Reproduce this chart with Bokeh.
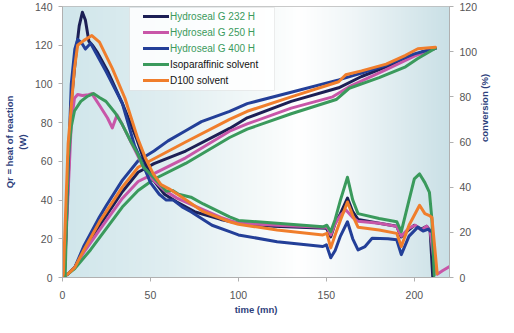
import math
import numpy as np
from bokeh.plotting import figure
from bokeh.models import Range1d, LinearAxis, Legend, LegendItem, BoxAnnotation, FixedTicker
from bokeh.embed import file_html
from bokeh.resources import INLINE

# ---------------- data ----------------
series = ["Hydroseal G 232 H", "Hydroseal G 250 H", "Hydroseal G 400 H",
          "Isoparaffinic solvent", "D100 solvent"]
colors = ["#1c1f55", "#c856a8", "#233f98", "#3a9a5c", "#f07e2c"]

# heat of reaction Qr (W) vs time (mn)
t_heat_232 = [0, 1, 3, 5, 7.7, 9.5, 11.3, 13, 15, 17, 20, 26, 34, 42, 47, 52, 58, 65, 75, 90, 100, 120,
              150, 152.5, 155, 158, 162, 165, 168, 180, 190, 192.5, 196, 200, 204, 207, 209, 210.5]
q_heat_232 = [0, 0, 45, 91, 116, 130, 137, 133, 122, 120, 116, 106, 90, 72, 59, 50, 43, 39, 34, 30, 28, 26.5,
              25.5, 21, 28, 33, 41, 34, 30, 28, 26.5, 21, 24, 27, 25, 26.5, 24, 0]

t_heat_250 = [0, 1, 3, 5, 6.8, 8.6, 11.3, 14.9, 16.7, 21, 25.6, 28.3, 31, 34, 40, 46, 52, 58, 65, 75, 90, 100, 122,
              148, 150.3, 152.5, 155, 158, 161, 165, 168, 180, 190, 192.6, 197, 200.5, 204, 207, 209, 211, 213, 216, 220]
q_heat_250 = [0, 0, 40, 80, 92.6, 94.5, 94, 94.4, 95, 89, 82.4, 77.3, 84, 79, 68, 57, 50, 45, 41, 37, 31, 28, 27,
              26, 26, 22, 28, 32, 35, 31, 29, 28, 26.4, 21.4, 25.5, 27, 24.5, 26.5, 24, 10, 1.7, 3.5, 5.6]

t_heat_400 = [0, 1, 3, 5, 7, 8.6, 11, 13, 16, 19, 25, 34, 41, 45, 50, 55, 59, 63, 68, 73, 85, 95, 100, 122,
              148, 150, 152.5, 155, 158, 162, 165, 168, 172, 176, 185, 190, 192.6, 197, 202, 205, 208, 209]
q_heat_400 = [0, 0, 50, 100, 118, 123, 121, 118, 121, 116, 106, 90, 68, 60, 49, 43, 40, 40, 36.5, 34, 27, 23.7, 22, 18.5,
              16, 16.9, 10.2, 14, 21.4, 28.8, 20, 14.3, 16, 20.3, 20, 19.5, 11.8, 21.4, 26, 24, 25, 24]

t_heat_iso = [0, 1.5, 3.2, 5, 6.8, 10.4, 14, 17.6, 21, 24.7, 30, 34, 39, 42.7, 46, 51.6, 57, 59, 62.4, 66, 73, 80,
              95, 100, 122, 148, 150.3, 152.5, 155, 158, 162, 165, 168, 180, 190, 192.6, 197, 200, 203, 206, 208.6,
              210, 211.3]
q_heat_iso = [0, 0, 62, 78, 86, 91, 93.5, 95, 93, 91, 85, 79, 70, 64, 57, 51.8, 46.7, 44.5, 45, 43, 41.5, 38,
              31.3, 29.5, 28, 26.2, 27, 23.7, 30, 40, 51.8, 40, 33, 30.5, 28.8, 23.7, 40, 51, 53.5, 49, 44,
              30, 1]

t_heat_d100 = [0, 0.5, 3.2, 6.8, 8.6, 12.2, 16.7, 21, 28.3, 35.5, 42.7, 47, 51.6, 56, 60.6, 68, 80, 95, 100, 122,
               148, 150.3, 152.5, 155, 158, 162, 165, 168, 180, 190, 192.6, 197, 203, 206, 208.6, 210, 213]
q_heat_d100 = [0, 2, 69, 108, 120, 122.5, 125, 121.6, 108, 92.6, 72, 62, 53.5, 48, 45.8, 41.5, 34, 28.8, 27.5, 24.5,
               22, 22.8, 15.3, 22, 29.6, 39, 32, 26, 24.5, 22.8, 16, 27, 37.3, 33, 32, 31, 2]

# conversion (%) vs time (mn)
t_conv_232 = [0, 3, 7, 12, 21, 34, 43, 52, 70, 95, 105, 130, 157, 170, 184, 195, 205, 212]
c_conv_232 = [0, 1.5, 4.5, 12, 23, 38, 46.6, 50.4, 56, 66, 70.7, 78, 84, 89, 93.3, 97, 100, 101.5]

t_conv_250 = [0, 3, 7, 12, 21, 34, 43, 52, 70, 95, 105, 130, 153.6, 163, 184, 200, 212]
c_conv_250 = [0, 1.5, 4.5, 11, 21, 35, 42.5, 46, 53, 64.8, 68, 75, 80, 84.5, 92, 98, 101.5]

t_conv_400 = [0, 3, 7, 12, 21, 25, 34, 43, 52, 60, 70, 79, 95, 105, 130, 157, 170, 184, 200, 212]
c_conv_400 = [0, 1.5, 4.5, 13.7, 26.8, 32, 43, 51.7, 56, 60.5, 65, 69, 73.6, 77, 82, 87.5, 90.5, 94, 99, 101.5]

t_conv_iso = [0, 3, 7, 16, 34, 43, 52, 70, 95, 105, 130, 155.6, 163, 180, 195, 202, 212]
c_conv_iso = [0, 1.5, 4, 12.3, 31.2, 38.5, 43.5, 50.5, 62, 65.7, 72.5, 78.8, 83.8, 88.5, 93.3, 97, 101.5]

t_conv_d100 = [0, 3, 7, 12, 21, 34, 43, 52, 70, 95, 105, 130, 157, 161, 170, 184, 195, 202, 212]
c_conv_d100 = [0, 1.5, 4.5, 12, 24.6, 40, 48.8, 52.6, 60, 70, 73.6, 80, 86.7, 89.8, 91.5, 94.5, 98.4, 101.3, 102]

heat_t = [t_heat_232, t_heat_250, t_heat_400, t_heat_iso, t_heat_d100]
heat_q = [q_heat_232, q_heat_250, q_heat_400, q_heat_iso, q_heat_d100]
conv_t = [t_conv_232, t_conv_250, t_conv_400, t_conv_iso, t_conv_d100]
conv_c = [c_conv_232, c_conv_250, c_conv_400, c_conv_iso, c_conv_d100]

x_ticks = [0, 50, 100, 150, 200]
left_ticks = [0, 20, 40, 60, 80, 100, 120, 140]
right_ticks = [0, 20, 40, 60, 80, 100, 120]

# ---------------- figure ----------------
FONT = "Liberation Sans"
p = figure(width=498, height=317, output_backend="svg", toolbar_location=None,
           x_range=Range1d(0, 220), y_range=Range1d(0, 140),
           min_border_left=56, min_border_right=33, min_border_top=6, min_border_bottom=37)
p.extra_y_ranges = {"conv": Range1d(0, 120)}
p.background_fill_color = "white"
p.border_fill_color = "white"
p.outline_line_color = "#b8b8b8"
p.outline_line_width = 1
p.grid.visible = False

# background gradient of the plotting area
stops_x = [0, 60, 115, 135, 165, 220]
stops_rgb = [(208, 230, 235), (224, 238, 241), (246, 250, 250), (255, 255, 255), (240, 246, 248), (202, 224, 230)]
xs = np.linspace(0, 220, 440)
r = np.interp(xs, stops_x, [c[0] for c in stops_rgb]).astype(np.uint32)
g = np.interp(xs, stops_x, [c[1] for c in stops_rgb]).astype(np.uint32)
b = np.interp(xs, stops_x, [c[2] for c in stops_rgb]).astype(np.uint32)
row = (255 << 24) | (b << 16) | (g << 8) | r
img = np.tile(row, (2, 1)).astype(np.uint32)
p.image_rgba(image=[img], x=0, y=0, dw=220, dh=140)

heat_renderers = []
for i in range(5):
    p.line(conv_t[i], conv_c[i], y_range_name="conv", line_color=colors[i], line_width=3,
           line_join="round", line_cap="round")
for i in range(5):
    rr = p.line(heat_t[i], heat_q[i], line_color=colors[i], line_width=3,
                line_join="round", line_cap="round")
    heat_renderers.append(rr)

# axes
p.xaxis.ticker = FixedTicker(ticks=x_ticks)
p.yaxis.ticker = FixedTicker(ticks=left_ticks)
right = LinearAxis(y_range_name="conv", ticker=FixedTicker(ticks=right_ticks))
p.add_layout(right, "right")

p.xaxis.axis_label = "time (mn)"
p.yaxis[0].axis_label = "Qr = heat of reaction\n(W)"
right.axis_label = "conversion (%)"
right.axis_label_orientation = math.pi / 2

for ax in [p.xaxis[0], p.yaxis[0], right]:
    ax.axis_line_color = "#b0b0b0"
    ax.major_tick_line_color = "#b0b0b0"
    ax.major_tick_out = 4
    ax.major_tick_in = 0
    ax.minor_tick_line_color = None
    ax.major_label_text_font = FONT
    ax.major_label_text_font_size = "10.5px"
    ax.major_label_text_color = "#555555"
    ax.axis_label_text_font = FONT
    ax.axis_label_text_font_size = "9.5px"
    ax.axis_label_text_font_style = "bold"
    ax.axis_label_text_color = "#2e3f7c"
p.xaxis.major_label_standoff = 9
p.xaxis.axis_label_standoff = 2
p.yaxis[0].major_label_standoff = 6
p.yaxis[0].axis_label_standoff = 4
right.major_label_standoff = 6
right.axis_label_standoff = 4

# legend box
box = BoxAnnotation(left=129, right=274, top=7, bottom=90,
                    left_units="canvas", right_units="canvas", top_units="canvas", bottom_units="canvas",
                    fill_color="white", fill_alpha=0.85, line_color="#c8c8c8", line_width=1)
p.add_layout(box)

items_a = [LegendItem(label=series[i], renderers=[heat_renderers[i]]) for i in range(3)]
items_b = [LegendItem(label=series[i], renderers=[heat_renderers[i]]) for i in range(3, 5)]
for items, tcol, loc in [(items_a, "#3a9a5c", (81, 221)), (items_b, "#111111", (81, 189))]:
    lg = Legend(items=items, location=loc, padding=2, spacing=0, margin=0,
                glyph_width=26, glyph_height=16, label_height=16, label_standoff=1,
                label_text_font=FONT, label_text_font_size="10px", label_text_color=tcol,
                background_fill_alpha=0, border_line_color=None)
    p.add_layout(lg)

open("out.html", "w").write(file_html(p, INLINE))
